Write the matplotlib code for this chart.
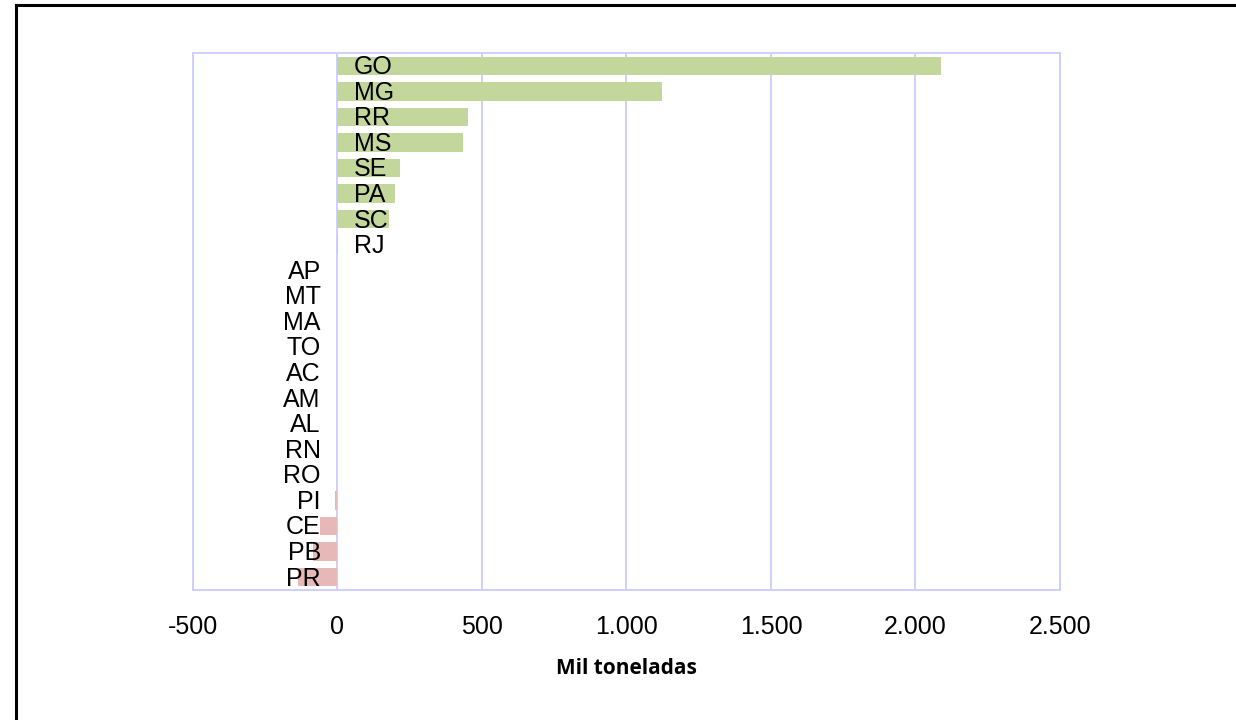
import matplotlib.pyplot as plt
from matplotlib.lines import Line2D

estados = ["GO", "MG", "RR", "MS", "SE", "PA", "SC", "RJ", "AP", "MT", "MA",
           "TO", "AC", "AM", "AL", "RN", "RO", "PI", "CE", "PB", "PR"]
valores = [2087, 1123, 451, 433, 218, 198, 177, 3, -2, -2, -2,
           -2, -2, -2, -2, -2, -2, -10, -60, -83, -135]
ticks = [-500, 0, 500, 1000, 1500, 2000, 2500]
tick_labels = ["-500", "0", "500", "1.000", "1.500", "2.000", "2.500"]

plt.rcParams['font.family'] = ['Liberation Sans', 'DejaVu Sans']

fig = plt.figure(figsize=(12.36, 7.2), dpi=100)
ax = fig.add_axes([0.1561, 0.1806, 0.7015, 0.7458])

cores = ['#c3d69b' if v >= 0 else '#e6b9b8' for v in valores]
pos = list(range(len(estados)))
ax.barh(pos, valores, height=0.72, color=cores, zorder=2)

for p, e, v in zip(pos, estados, valores):
    if v >= 0:
        ax.annotate(e, (0, p), xytext=(12, -1), textcoords='offset points',
                    ha='left', va='center', fontsize=18, zorder=3)
    else:
        ax.annotate(e, (0, p), xytext=(-12, -1), textcoords='offset points',
                    ha='right', va='center', fontsize=18, zorder=3)

ax.set_xlim(-500, 2500)
ax.set_ylim(len(estados) - 0.5, -0.5)
ax.set_xticks(ticks)
ax.set_xticklabels(tick_labels, fontsize=18)
ax.set_yticks([])
ax.tick_params(axis='x', length=0, pad=18)
ax.grid(axis='x', color='#ccccff', linewidth=1.3, zorder=0)
for s in ax.spines.values():
    s.set_color('#ccccff')
    s.set_linewidth(1.3)
ax.set_xlabel("Mil toneladas", fontsize=15, fontweight='bold', family='Open Sans', labelpad=14)

# moldura da figura
fig.add_artist(Line2D([16/1236, 16/1236], [0, 1 - 5/720], color='black', lw=2.2, transform=fig.transFigure))
fig.add_artist(Line2D([16/1236, 1], [1 - 5/720, 1 - 5/720], color='black', lw=2.2, transform=fig.transFigure))

plt.savefig("out.png", dpi=100)
